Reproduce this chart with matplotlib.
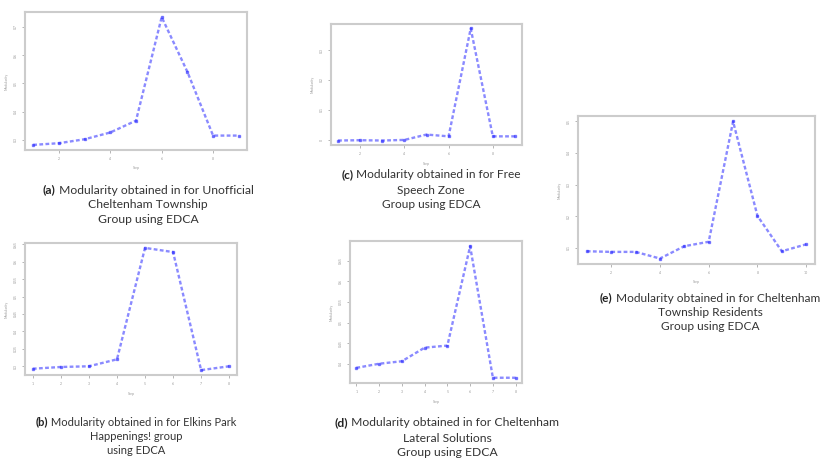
import matplotlib
matplotlib.use("Agg")
import matplotlib.pyplot as plt

W, H = 823, 459

# values
a_x = [1, 2, 3, 4, 5, 6, 7, 8, 9]
a_y = [0.282, 0.288, 0.302, 0.326, 0.368, 0.735, 0.541, 0.315, 0.315]
a_ticks = [0.3, 0.4, 0.5, 0.6, 0.7]

c_x = [1, 2, 3, 4, 5, 6, 7, 8, 9]
c_y = [-0.003, -0.002, -0.003, -0.001, 0.017, 0.011, 0.373, 0.011, 0.011]
c_ticks = [0.0, 0.1, 0.2, 0.3]

b_x = [1, 2, 3, 4, 5, 6, 7, 8]
b_y = [0.293, 0.298, 0.300, 0.320, 0.640, 0.628, 0.289, 0.300]
b_ticks = [0.30, 0.35, 0.40, 0.45, 0.50, 0.55, 0.60, 0.65]

d_x = [1, 2, 3, 4, 5, 6, 7, 8]
d_y = [0.390, 0.400, 0.406, 0.439, 0.444, 0.685, 0.366, 0.366]
d_ticks = [0.40, 0.45, 0.50, 0.55, 0.60, 0.65]

e_x = [1, 2, 3, 4, 5, 6, 7, 8, 9, 10]
e_y = [0.089, 0.087, 0.087, 0.066, 0.105, 0.119, 0.500, 0.201, 0.089, 0.111]
e_ticks = [0.1, 0.2, 0.3, 0.4, 0.5]

captions = {
    "a": ["Modularity obtained in for Unofficial", "Cheltenham Township", "Group using EDCA"],
    "c": ["Modularity obtained in for Free", "Speech Zone", "Group using EDCA"],
    "b": ["Modularity obtained in for Elkins Park", "Happenings! group", "using EDCA"],
    "d": ["Modularity obtained in for Cheltenham", "Lateral Solutions", "Group using EDCA"],
    "e": ["Modularity obtained in for Cheltenham", "Township Residents", "Group using EDCA"],
}

# pixel boxes (left, right, top, bottom) and caption centre/lines
boxes = {
    "a": (25, 247, 12, 150),
    "c": (331, 522, 24, 145),
    "b": (25, 237, 243, 375),
    "d": (350, 522, 241, 383),
    "e": (578, 815, 116, 264),
}
cap_pos = {
    "a": (148, [190, 205, 219]),
    "c": (431, [175, 190, 205]),
    "b": (136, [422, 437, 451]),
    "d": (447, [423, 438, 452]),
    "e": (710, [298, 313, 327]),
}
cap_size = {"a": 8.7, "c": 8.6, "b": 8.0, "d": 8.7, "e": 8.6}
xticks = {"a": [2, 4, 6, 8], "c": [2, 4, 6, 8], "b": b_x, "d": d_x, "e": [2, 4, 6, 8, 10]}
data = {"a": (a_x, a_y, a_ticks), "c": (c_x, c_y, c_ticks), "b": (b_x, b_y, b_ticks),
        "d": (d_x, d_y, d_ticks), "e": (e_x, e_y, e_ticks)}

fig = plt.figure(figsize=(W / 100, H / 100), dpi=100)
fig.patch.set_facecolor("white")
plt.rcParams["font.family"] = ["Lato", "DejaVu Sans"]

for key in ["a", "c", "b", "d", "e"]:
    l, r, t, b = boxes[key]
    ax = fig.add_axes([l / W, 1 - b / H, (r - l) / W, (b - t) / H])
    xs, ys, yt = data[key]
    ax.plot(xs, ys, color="#2a2aff", alpha=0.55, linestyle=(0, (1.6, 1.0)), linewidth=1.7,
            marker="s", markersize=1.8)
    ax.margins(0.04)
    ax.set_xticks(xticks[key])
    ax.set_yticks(yt)
    ax.set_yticklabels([f"{v:g}" for v in yt], rotation=90, va="center")
    ax.tick_params(labelsize=2.5, colors="#999999", length=2, width=0.5, pad=3)
    ax.set_xlabel("Step", fontsize=2.5, color="#999999", labelpad=4)
    ax.set_ylabel("Modularity", fontsize=2.5, color="#999999", labelpad=4)
    for s in ax.spines.values():
        s.set_color("#cccccc")
        s.set_linewidth(1.5)

renderer = fig.canvas.get_renderer()
for key, lines in captions.items():
    cx, ys = cap_pos[key]
    fs = cap_size[key]
    t1 = fig.text(0, 0, f"({key})", fontsize=fs, fontweight="bold", color="#222222",
                  ha="left", va="center")
    t2 = fig.text(0, 0, " " + lines[0], fontsize=fs, color="#333333", ha="left", va="center")
    w1 = t1.get_window_extent(renderer).width
    w2 = t2.get_window_extent(renderer).width
    x0 = cx - (w1 + w2) / 2
    t1.set_position((x0 / W, 1 - ys[0] / H))
    t2.set_position(((x0 + w1) / W, 1 - ys[0] / H))
    for line, y in zip(lines[1:], ys[1:]):
        fig.text(cx / W, 1 - y / H, line, fontsize=fs, color="#333333", ha="center", va="center")

fig.savefig("out.png", dpi=100, facecolor="white")
